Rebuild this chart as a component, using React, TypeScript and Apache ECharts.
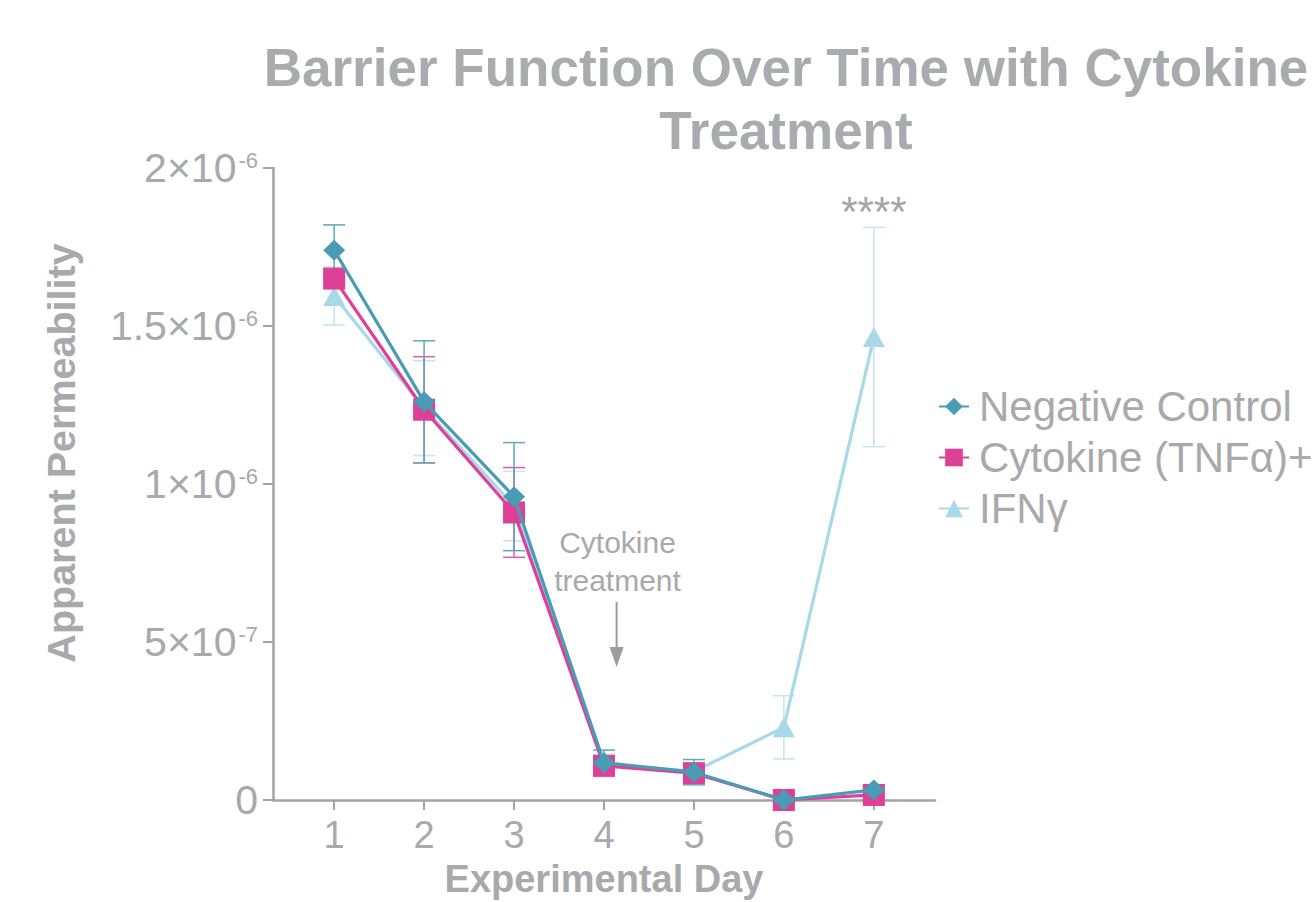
import React, { useEffect, useRef } from "react";
import * as echarts from "echarts";

const days = [1, 2, 3, 4, 5, 6, 7];
const seriesNames = ["Negative Control", "Cytokine (TNFα)+", "IFNγ"];
const seriesColors = ["#4a9cb5", "#de3f97", "#a9d8ea"];
const errorColors = ["#5fa8bd", "#e25aa6", "#c4e4ef"];

const negativeControl = [1.74e-6, 1.26e-6, 0.96e-6, 0.118e-6, 0.088e-6, 0.0, 0.032e-6];
const negativeControlErr = [0.08e-6, 0.193e-6, 0.171e-6, 0.04e-6, 0.04e-6, 0.008e-6, 0.01e-6];
const cytokine = [1.65e-6, 1.235e-6, 0.91e-6, 0.108e-6, 0.085e-6, 0.0, 0.016e-6];
const cytokineErr = [0.03e-6, 0.168e-6, 0.142e-6, 0.02e-6, 0.02e-6, 0.008e-6, 0.01e-6];
const ifng = [1.595e-6, 1.24e-6, 0.93e-6, 0.115e-6, 0.09e-6, 0.23e-6, 1.465e-6];
const ifngErr = [0.092e-6, 0.15e-6, 0.11e-6, 0.03e-6, 0.02e-6, 0.1e-6, 0.347e-6];

const yTickMantissas = ["0", "5×10", "1×10", "1.5×10", "2×10"];
const yTickExponents = ["", "-7", "-6", "-6", "-6"];

const FONT = "'Liberation Sans', Arial, Helvetica, sans-serif";
const GREY = "#a9a9ab";

function errorSeries(means: number[], errs: number[], color: string, z: number) {
  return {
    type: "custom",
    silent: true,
    z,
    renderItem: (params: any, api: any) => {
      const x = api.value(0);
      const lo = api.value(2);
      const hi = api.value(3);
      const top = api.coord([x, hi]);
      const bot = api.coord([x, lo]);
      const half = 11;
      const st = { stroke: color, lineWidth: 1.5 };
      return {
        type: "group",
        children: [
          { type: "line", shape: { x1: top[0], y1: top[1], x2: bot[0], y2: bot[1] }, style: st },
          { type: "line", shape: { x1: top[0] - half, y1: top[1], x2: top[0] + half, y2: top[1] }, style: st },
          { type: "line", shape: { x1: bot[0] - half, y1: bot[1], x2: bot[0] + half, y2: bot[1] }, style: st },
        ],
      };
    },
    encode: { x: 0, y: [1, 2, 3] },
    data: days.map((d, i) => [d, means[i], means[i] - errs[i], means[i] + errs[i]]),
  };
}

function lineSeries(name: string, values: number[], color: string, symbol: string, size: any, z: number) {
  return {
    type: "line",
    name,
    z,
    symbol,
    symbolSize: size,
    showAllSymbol: true,
    lineStyle: { color, width: 3.2 },
    itemStyle: { color },
    data: days.map((d, i) => [d, values[i]]),
  };
}

export default function App() {
  const ref = useRef<HTMLDivElement>(null);
  useEffect(() => {
    if (!ref.current) return;
    const chart = echarts.init(ref.current, undefined, { renderer: "svg" });
    chart.setOption({
      animation: false,
      backgroundColor: "#ffffff",
      grid: { left: 273, right: 380, top: 168, bottom: 102, outerBoundsMode: "none", containLabel: false },
      legend: {
        data: seriesNames,
        orient: "vertical",
        left: 933,
        top: 376,
        itemWidth: 30,
        itemHeight: 22,
        itemGap: 0,
        textStyle: { fontSize: 42, color: GREY, lineHeight: 51, fontFamily: FONT, padding: [0, 0, 0, 5] },
      },
      xAxis: {
        type: "value",
        min: 0.32,
        max: 7.68,
        splitLine: { show: false },
        axisLine: { lineStyle: { color: "#a3a3a3", width: 2.5 } },
        axisTick: { customValues: days, length: 10, lineStyle: { color: "#a3a3a3", width: 2 } },
        axisLabel: {
          customValues: days,
          margin: 16,
          fontSize: 38,
          color: GREY,
          fontFamily: FONT,
        },
        name: "Experimental Day",
        nameLocation: "middle",
        nameGap: 60,
        nameTextStyle: { fontSize: 38, fontWeight: "bold", color: GREY, fontFamily: FONT },
      },
      yAxis: {
        type: "value",
        min: 0,
        max: 2e-6,
        interval: 5e-7,
        splitLine: { show: false },
        axisLine: { show: true, lineStyle: { color: "#a3a3a3", width: 2.5 } },
        axisTick: { show: true, length: 10, lineStyle: { color: "#a3a3a3", width: 2 } },
        axisLabel: {
          margin: 15,
          formatter: (v: number) => {
            const i = Math.round(v / 5e-7);
            const m = yTickMantissas[i];
            const e = yTickExponents[i];
            return e ? `{m|${m}}{s|${e}}` : `{m|${m}}`;
          },
          rich: {
            m: { fontSize: 41, color: GREY, fontFamily: FONT },
            s: { fontSize: 22, color: GREY, fontFamily: FONT, verticalAlign: "top", padding: [2, 0, 0, 2] },
          },
        },
      },
      series: [
        errorSeries(ifng, ifngErr, errorColors[2], 1),
        errorSeries(cytokine, cytokineErr, errorColors[1], 1),
        errorSeries(negativeControl, negativeControlErr, errorColors[0], 1),
        lineSeries(seriesNames[2], ifng, seriesColors[2], "triangle", [22, 20], 2),
        lineSeries(seriesNames[1], cytokine, seriesColors[1], "rect", [22, 22], 3),
        lineSeries(seriesNames[0], negativeControl, seriesColors[0], "diamond", [22, 21], 4),
      ],
    });

    const arrowTop = chart.convertToPixel({ gridIndex: 0 }, [4.14, 0.627e-6]) as number[];
    const arrowBot = chart.convertToPixel({ gridIndex: 0 }, [4.14, 0.421e-6]) as number[];
    const noteAt = chart.convertToPixel({ gridIndex: 0 }, [4.15, 0.756e-6]) as number[];
    const starsAt = chart.convertToPixel({ gridIndex: 0 }, [7, 1.93e-6]) as number[];

    chart.setOption({
      graphic: [
        {
          type: "text",
          x: 786,
          y: 36,
          style: {
            text: "Barrier Function Over Time with Cytokine\nTreatment",
            font: `bold 53px ${FONT}`,
            fill: "#aaabae",
            textAlign: "center",
            textVerticalAlign: "top",
            lineHeight: 63,
          },
        },
        {
          type: "text",
          x: 61,
          y: 453,
          rotation: Math.PI / 2,
          style: {
            text: "Apparent Permeability",
            font: `bold 39.5px ${FONT}`,
            fill: GREY,
            textAlign: "center",
            textVerticalAlign: "middle",
          },
        },
        {
          type: "text",
          x: noteAt[0],
          y: noteAt[1],
          style: {
            text: "Cytokine\ntreatment",
            font: `30px ${FONT}`,
            fill: GREY,
            textAlign: "center",
            textVerticalAlign: "middle",
            lineHeight: 38,
          },
        },
        {
          type: "line",
          shape: { x1: arrowTop[0], y1: arrowTop[1], x2: arrowBot[0], y2: arrowBot[1] - 14 },
          style: { stroke: "#9c9c9e", lineWidth: 2 },
        },
        {
          type: "polygon",
          shape: {
            points: [
              [arrowBot[0] - 7, arrowBot[1] - 20],
              [arrowBot[0] + 7, arrowBot[1] - 20],
              [arrowBot[0], arrowBot[1]],
            ],
          },
          style: { fill: "#9c9c9e" },
        },
        {
          type: "text",
          x: starsAt[0],
          y: starsAt[1],
          style: {
            text: "****",
            font: `42px ${FONT}`,
            fill: "#a5a5a7",
            textAlign: "center",
            textVerticalAlign: "top",
          },
        },
      ],
    });

    return () => chart.dispose();
  }, []);
  return <div ref={ref} style={{ position: "fixed", left: 0, top: 0, width: 1315, height: 902 }} />;
}
